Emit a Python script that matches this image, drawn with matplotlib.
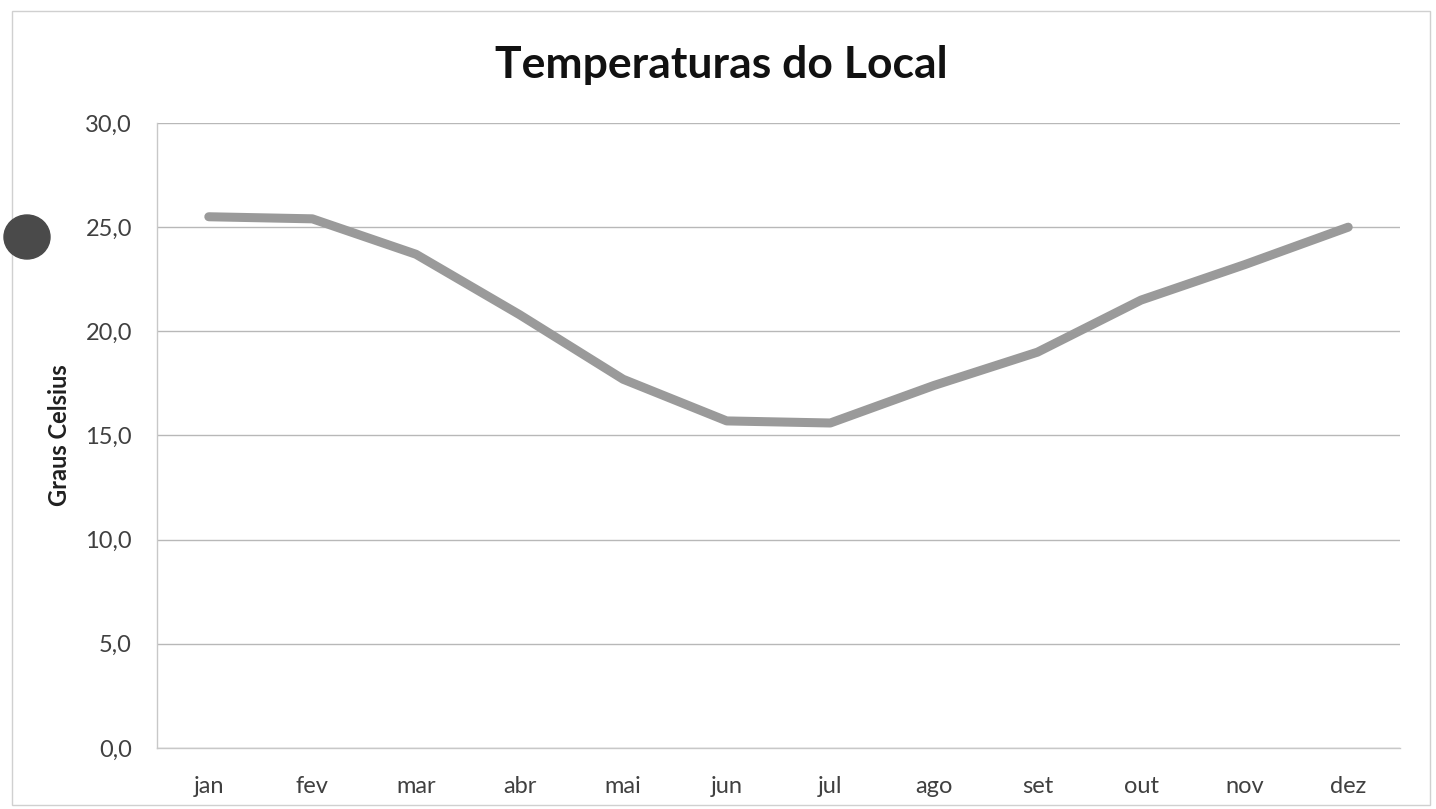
import numpy as np
import matplotlib.pyplot as plt
from matplotlib.patches import Ellipse, Rectangle

meses = ['jan', 'fev', 'mar', 'abr', 'mai', 'jun', 'jul', 'ago', 'set', 'out', 'nov', 'dez']
temperaturas = [25.5, 25.4, 23.7, 20.8, 17.7, 15.7, 15.6, 17.4, 19.0, 21.5, 23.2, 25.0]
yticks = [0, 5, 10, 15, 20, 25, 30]

plt.rcParams['font.family'] = ['Lato', 'DejaVu Sans']

fig = plt.figure(figsize=(14.36, 8.09), dpi=100)
ax = fig.add_axes([157/1436, 61/809, 1243/1436, 625/809])

x = np.arange(len(meses))
ax.plot(x, temperaturas, color='#9a9a9a', lw=6.5, solid_capstyle='round', solid_joinstyle='round', zorder=3)

ax.set_xlim(-0.5, len(meses) - 0.5)
ax.set_ylim(0, 30)
ax.set_yticks(yticks)
ax.set_yticklabels([f'{v:.1f}'.replace('.', ',') for v in yticks])
ax.set_xticks(x)
ax.set_xticklabels(meses)
ax.tick_params(length=0, labelsize=17, colors='#404040')
ax.tick_params(axis='x', pad=20)
ax.tick_params(axis='y', pad=18)
ax.grid(axis='y', color='#b8b8b8', lw=1)
ax.set_axisbelow(True)
for s in ['top', 'right']:
    ax.spines[s].set_visible(False)
for s in ['left', 'bottom']:
    ax.spines[s].set_color('#c8c8c8')
    ax.spines[s].set_linewidth(1)

ax.set_ylabel('Graus Celsius', fontsize=17, fontweight='bold', color='#202020', labelpad=10)
fig.text(721/1436, 1 - 65/809, 'Temperaturas do Local', ha='center', va='center',
         fontsize=32, fontweight='bold', color='#111111')

# chart border and hole-punch mark from the scan
fig.patches.append(Rectangle((12/1436, 4/809), 1418/1436, 794/809, transform=fig.transFigure,
                             fill=False, ec='#d0d0d0', lw=1))
fig.patches.append(Ellipse((27/1436, 1 - 237/809), 46/1436, 44/809, transform=fig.transFigure,
                           color='#4a4a4a'))

plt.savefig('out.png', dpi=100, facecolor='white')
